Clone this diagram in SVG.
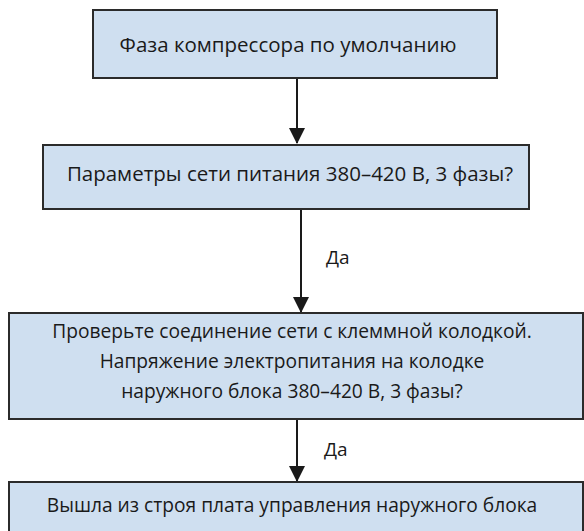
<svg xmlns="http://www.w3.org/2000/svg" width="584" height="531" viewBox="0 0 584 531">
<defs>
<style>
.box{fill:#cfdff0;stroke:#2b2b2b;stroke-width:2}
.t{font-family:"Open Sans","Noto Sans","DejaVu Sans",sans-serif;font-size:20.5px;fill:#1a1a1a;text-anchor:middle}
.s{font-size:19.2px}
.lbl{font-family:"Open Sans","Noto Sans","DejaVu Sans",sans-serif;font-size:19px;fill:#1a1a1a}
.c{stroke:#1a1a1a;stroke-width:2;fill:none}
</style>
<marker id="ah" markerWidth="8" markerHeight="8" refX="7.5" refY="4" orient="auto" markerUnits="strokeWidth" viewBox="0 0 8 8">
<path d="M0,0 L8,4 L0,8 Z" fill="#1a1a1a"/>
</marker>
</defs>
<rect width="584" height="531" fill="#ffffff"/>
<g id="connectors">
<line class="c" x1="297" y1="78" x2="297" y2="143" marker-end="url(#ah)"/>
<line class="c" x1="301" y1="209" x2="301" y2="312" marker-end="url(#ah)"/>
<text class="lbl" x="326" y="264">Да</text>
<line class="c" x1="297" y1="419" x2="297" y2="481" marker-end="url(#ah)"/>
<text class="lbl" x="324" y="456">Да</text>
</g>
<g id="node1">
<rect class="box" x="93" y="10" width="404" height="68"/>
<text class="t" x="288" y="52">Фаза компрессора по умолчанию</text>
</g>
<g id="node2">
<rect class="box" x="43" y="145" width="486" height="64"/>
<text class="t" x="290" y="181">Параметры сети питания 380–420 В, 3 фазы?</text>
</g>
<g id="node3">
<rect class="box" x="9" y="313" width="574" height="106"/>
<text class="t s" x="292" y="338">Проверьте соединение сети с клеммной колодкой.</text>
<text class="t s" x="292" y="368">Напряжение электропитания на колодке</text>
<text class="t s" x="292" y="398">наружного блока 380–420 В, 3 фазы?</text>
</g>
<g id="node4">
<rect class="box" x="9" y="482" width="574" height="60"/>
<text class="t s" x="292" y="512">Вышла из строя плата управления наружного блока</text>
</g>
</svg>
